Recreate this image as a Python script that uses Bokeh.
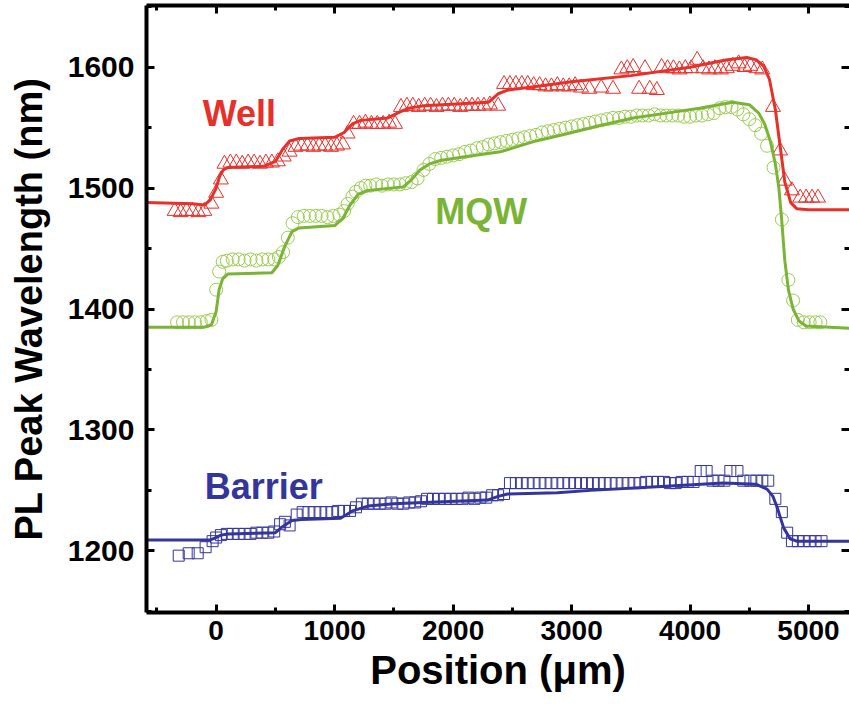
from bokeh.plotting import figure
from bokeh.models import LinearAxis, Range1d, Label, SingleIntervalTicker
from bokeh.embed import file_html
from bokeh.resources import INLINE

# ---------------- data ----------------
well_x = [-350, -300, -250, -200, -150, -100, -40, 0, 40, 70, 120, 170, 220, 270, 320, 370, 420, 470, 520,
          570, 620, 670, 720, 770, 820, 870, 920, 970, 1020, 1070, 1110, 1160, 1210, 1260, 1310, 1360, 1410,
          1460, 1510, 1560, 1610, 1660, 1710, 1760, 1810, 1860, 1910, 1960, 2010, 2060, 2110, 2160, 2210,
          2260, 2310, 2380, 2430, 2480, 2530, 2580, 2630, 2680, 2730, 2780, 2830, 2880, 2930, 2980, 3030,
          3080, 3150, 3250, 3350, 3420, 3470, 3520, 3570, 3620, 3660, 3720, 3760, 3810, 3860, 3910, 3960,
          4010, 4060, 4110, 4160, 4210, 4260, 4310, 4360, 4410, 4460, 4510, 4560, 4610, 4700, 4760, 4800,
          4860, 4930, 4980, 5030, 5080]
well_y = [1481, 1480, 1481, 1481, 1480, 1481, 1487, 1496, 1507, 1520, 1521, 1521, 1520, 1521, 1521, 1520, 1521, 1521, 1522,
          1526, 1530, 1534, 1535, 1535, 1534, 1535, 1535, 1534, 1535, 1536, 1545, 1553, 1553, 1554, 1553, 1553, 1553,
          1554, 1553, 1567, 1568, 1568, 1567, 1568, 1568, 1567, 1568, 1568, 1568, 1567, 1568, 1568, 1568,
          1568, 1569, 1568, 1586, 1586, 1586, 1586, 1586, 1585, 1585, 1584, 1584, 1585, 1584, 1584, 1585,
          1583, 1582, 1583, 1582, 1598, 1599, 1600, 1582, 1599, 1582, 1581, 1600, 1599, 1599, 1598, 1599,
          1599, 1606, 1599, 1598, 1599, 1598, 1599, 1601, 1603, 1600, 1601, 1599, 1598, 1567, 1531, 1506,
          1498, 1492, 1492, 1492, 1492]

well_fit_x = [-600, -200, -100, -50, 0, 30, 60, 100, 400, 500, 560, 620, 700, 1000, 1080, 1150, 1220, 1450,
              1530, 1620, 1750, 2300, 2380, 2460, 2700, 3000, 3500, 4000, 4300, 4480, 4560, 4620, 4670, 4720,
              4760, 4800, 4850, 4900, 5000, 5350]
well_fit_y = [1488, 1487, 1486, 1490, 1500, 1510, 1515, 1517, 1518, 1522, 1532, 1539, 1541, 1542, 1546, 1553, 1556, 1558,
              1562, 1566, 1568, 1571, 1578, 1581, 1584, 1588, 1593, 1600, 1606, 1608, 1606, 1601, 1590, 1565,
              1535, 1505, 1488, 1483, 1482, 1482]

mqw_x = [-330, -280, -230, -180, -130, -80, -40, 0, 25, 55, 90, 140, 190, 240, 290, 340, 390, 440, 490, 530,
         565, 605, 645, 690, 740, 790, 840, 890, 940, 990, 1040, 1080, 1110, 1150, 1180, 1220, 1260, 1300,
         1350, 1400, 1450, 1500, 1550, 1600, 1650, 1700, 1750, 1800, 1850, 1900, 1950, 2000, 2050, 2100,
         2150, 2200, 2250, 2300, 2350, 2400, 2450, 2500, 2550, 2600, 2650, 2700, 2750, 2800, 2850, 2900,
         2950, 3000, 3050, 3100, 3150, 3200, 3250, 3300, 3350, 3400, 3450, 3500, 3550, 3600, 3650, 3700,
         3750, 3800, 3850, 3900, 3950, 4000, 4050, 4100, 4150, 4200, 4250, 4300, 4350, 4400, 4450, 4500,
         4550, 4600, 4650, 4705, 4775, 4830, 4870, 4910, 4960, 5010, 5060, 5100]
mqw_y = [1389, 1389, 1389, 1389, 1389, 1390, 1391, 1416, 1431, 1439, 1440, 1441, 1441, 1440, 1441, 1440, 1441, 1441, 1441, 1443,
         1447, 1459, 1471, 1476, 1477, 1477, 1477, 1477, 1476, 1477, 1478, 1481, 1487, 1493, 1497, 1500, 1502, 1502,
         1503, 1502, 1503, 1503, 1503, 1504, 1505, 1508, 1515, 1520, 1524, 1525, 1526, 1527, 1528, 1530,
         1531, 1533, 1534, 1536, 1537, 1538, 1539, 1540, 1541, 1542, 1543, 1544, 1546, 1547, 1548, 1549,
         1550, 1551, 1552, 1553, 1554, 1555, 1556, 1557, 1558, 1558, 1559, 1559, 1560, 1560, 1560, 1561,
         1560, 1560, 1560, 1560, 1559, 1559, 1560, 1560, 1561, 1562, 1566, 1567, 1567, 1565, 1561, 1557,
         1552, 1545, 1535, 1517, 1474, 1424, 1407, 1391, 1389, 1389, 1389, 1389]

mqw_fit_x = [-600, -100, -40, 0, 25, 55, 100, 470, 520, 580, 640, 700, 1000, 1070, 1130, 1200, 1280, 1580,
             1650, 1720, 1800, 1900, 2100, 2400, 2700, 2960, 3250, 3520, 3800, 4080, 4360, 4500, 4580, 4630,
             4680, 4720, 4750, 4775, 4800, 4830, 4870, 4920, 4980, 5350]
mqw_fit_y = [1385, 1385, 1387, 1398, 1416, 1425, 1429, 1430, 1436, 1452, 1464, 1467, 1469, 1475, 1486, 1495, 1498, 1501,
             1507, 1515, 1520, 1523, 1526, 1530, 1539, 1545, 1552, 1558, 1562, 1566, 1571, 1569, 1562, 1553,
             1538, 1520, 1500, 1472, 1440, 1416, 1400, 1390, 1386, 1384]

bar_x = [-316, -232, -156, -89, -30, 0, 40, 90, 140, 190, 240, 290, 340, 390, 440, 490, 540, 580, 620, 680,
         730, 780, 830, 880, 930, 980, 1030, 1080, 1130, 1180, 1230, 1280, 1330, 1380, 1430, 1480, 1530,
         1580, 1630, 1680, 1730, 1780, 1830, 1880, 1930, 1980, 2030, 2080, 2130, 2180, 2230, 2280, 2330,
         2380, 2430, 2480, 2530, 2580, 2630, 2680, 2730, 2780, 2830, 2880, 2930, 2980, 3030, 3080, 3130,
         3180, 3230, 3280, 3330, 3380, 3430, 3480, 3530, 3580, 3630, 3680, 3730, 3780, 3830, 3880, 3930,
         3980, 4030, 4090, 4140, 4190, 4240, 4290, 4340, 4400, 4450, 4510, 4560, 4610, 4660, 4720, 4775,
         4820, 4860, 4910, 4960, 5010, 5060, 5110]
bar_y = [1196, 1198, 1198, 1203, 1208, 1211, 1213, 1214, 1214, 1214, 1214, 1214, 1215, 1215, 1215, 1216, 1222, 1224, 1221, 1230,
         1232, 1232, 1232, 1232, 1232, 1232, 1233, 1233, 1233, 1236, 1239, 1239, 1239, 1239, 1239, 1240, 1239,
         1239, 1240, 1240, 1241, 1243, 1243, 1243, 1243, 1243, 1243, 1243, 1244, 1243, 1244, 1244, 1246,
         1246, 1247, 1256, 1256, 1256, 1256, 1256, 1256, 1256, 1256, 1256, 1256, 1256, 1256, 1256, 1256,
         1256, 1256, 1256, 1256, 1256, 1256, 1256, 1256, 1256, 1257, 1257, 1257, 1257, 1256, 1256, 1257,
         1257, 1257, 1266, 1266, 1258, 1258, 1258, 1266, 1266, 1258, 1258, 1258, 1258, 1258, 1243, 1232,
         1215, 1208, 1208, 1208, 1208, 1208, 1208]

bar_fit_x = [-600, -50, 0, 40, 100, 500, 560, 640, 720, 1050, 1150, 1280, 1500, 1750, 2290, 2380, 2460, 2880,
             3160, 3720, 4280, 4560, 4650, 4700, 4735, 4790, 4845, 4900, 5350]
bar_fit_y = [1209, 1209, 1211, 1213, 1214, 1215, 1220, 1225, 1226, 1227, 1233, 1237, 1239, 1240, 1242, 1245, 1247, 1248,
             1250, 1253, 1256, 1255, 1251, 1245, 1236, 1219, 1210, 1208, 1208]

x_tick_values = [-1000, 0, 1000, 2000, 3000, 4000, 5000, 6000]
y_tick_values = [1100, 1200, 1300, 1400, 1500, 1600, 1700]

RED = "#e8302a"
GREEN_M = "#9ccc52"
GREEN_L = "#7ab435"
BLUE = "#34359c"
FONT = "Liberation Sans"

# ---------------- figure ----------------
p = figure(width=849, height=708, x_range=Range1d(-588, 5346), y_range=Range1d(1149, 1651),
           output_backend="svg", toolbar_location=None,
           x_axis_location=None, y_axis_location=None,
           min_border_left=146, min_border_right=0, min_border_top=5, min_border_bottom=96)
p.grid.visible = False
p.outline_line_color = None

# markers
p.scatter(well_x, well_y, marker="triangle", size=15, fill_color=None, line_color=RED, line_width=1)
p.scatter(mqw_x, mqw_y, marker="circle", size=13, fill_color=None, line_color=GREEN_M, line_width=1)
p.scatter(bar_x, bar_y, marker="square", size=11, fill_color=None, line_color=BLUE, line_width=1)

# fits
p.line(well_fit_x, well_fit_y, line_color=RED, line_width=3, line_join="round")
p.line(mqw_fit_x, mqw_fit_y, line_color=GREEN_L, line_width=3, line_join="round")
p.line(bar_fit_x, bar_fit_y, line_color=BLUE, line_width=3, line_join="round")

# series labels
for txt, xx, yy, col in [("Well", -114, 1562, RED), ("MQW", 1850, 1481, GREEN_L), ("Barrier", -97, 1253, BLUE)]:
    p.add_layout(Label(x=xx, y=yy, text=txt, text_color=col, text_font=FONT, text_font_size="36px",
                       text_font_style="bold", text_baseline="alphabetic", text_align="left"))

# axes
def xt():
    return SingleIntervalTicker(interval=1000, num_minor_ticks=2)

def yt():
    return SingleIntervalTicker(interval=100, num_minor_ticks=2)

bottom = LinearAxis(ticker=xt())
left = LinearAxis(ticker=yt())
top = LinearAxis(ticker=xt())
right = LinearAxis(ticker=yt())
p.add_layout(bottom, "below")
p.add_layout(left, "left")
p.add_layout(top, "above")
p.add_layout(right, "right")

for ax in [bottom, left, top, right]:
    ax.axis_line_width = 4
    ax.axis_line_color = "black"
    ax.major_tick_in = 8
    ax.major_tick_out = 0
    ax.minor_tick_in = 5
    ax.minor_tick_out = 0
    ax.major_tick_line_width = 3
    ax.minor_tick_line_width = 3
    ax.major_tick_line_color = "black"
    ax.minor_tick_line_color = "black"
    ax.major_label_text_font = FONT
    ax.major_label_text_font_style = "bold"
    ax.major_label_text_color = "black"
    ax.axis_label_text_font = FONT
    ax.axis_label_text_font_style = "bold"
    ax.axis_label_text_color = "black"

top.major_label_overrides = {v: "" for v in x_tick_values}
right.major_label_overrides = {v: "" for v in y_tick_values}
for ax in [top, right]:
    ax.major_label_standoff = 0
    ax.major_label_text_font_size = "1px"
right.axis_line_color = None

bottom.major_label_text_font_size = "28px"
bottom.major_label_standoff = 8
bottom.axis_label = "Position (μm)"
bottom.axis_label_text_font_size = "40px"
bottom.axis_label_standoff = 5

left.major_label_text_font_size = "30px"
left.major_label_standoff = 12
left.axis_label = "PL Peak Wavelength (nm)"
left.axis_label_text_font_size = "38px"
left.axis_label_standoff = 15

open("out.html", "w").write(file_html(p, INLINE))
